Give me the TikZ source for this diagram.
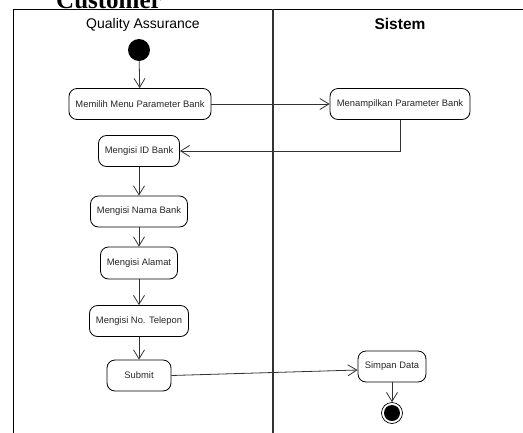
\documentclass[tikz,border=0pt]{standalone}
\usepackage{fontspec}
\setmainfont{Liberation Sans}
\newfontfamily\serifbold{Liberation Serif}
\usetikzlibrary{arrows.meta}
\tikzset{
  act/.style={draw, rounded corners=8pt, line width=0.8pt, inner sep=0pt, font=\fontsize{9.4}{10}\selectfont, text=black!85},
  flow/.style={line width=0.8pt, draw=black!80, -{Straight Barb[length=9pt,width=11pt,line width=0.8pt]}},
  lane/.style={line width=0.9pt, draw=black},
  divider/.style={line width=1.5pt, draw=black!80}
}
\begin{document}
\begin{tikzpicture}[x=1pt,y=-1pt]
\useasboundingbox (0,0) rectangle (523,432);
% title partly cut off
\node[anchor=base west, inner sep=0pt, font=\serifbold\bfseries\fontsize{25}{25}\selectfont] (cust) at (56,8) {Customer};
% swimlane frame
\coordinate (fbl) at (13,440);
\coordinate (ftl) at (13,9);
\coordinate (ftr) at (530,9);
\draw[lane] (fbl) -- (ftl) -- (ftr);
\coordinate (dt) at (273,9);
\coordinate (db) at (273,440);
\draw[divider] (dt) -- (db);
% lane headers
\node[anchor=base, inner sep=0pt, font=\fontsize{14}{16}\selectfont] (qa) at (143,28) {Quality Assurance};
\node[anchor=base, inner sep=0pt, font=\bfseries\fontsize{15.5}{17}\selectfont] (sis) at (400,29.5) {Sistem};
% start
\node[circle, fill=black, minimum size=22pt, inner sep=0pt] (start) at (139,50) {};
% activities
\node[act, minimum width=142pt, minimum height=31pt] (m1) at (140,104) {Memilih Menu Parameter Bank};
\node[act, minimum width=140pt, minimum height=31pt] (m2) at (400,104) {Menampilkan Parameter Bank};
\node[act, minimum width=81pt, minimum height=31pt] (id) at (139,151) {Mengisi ID Bank};
\node[act, minimum width=97pt, minimum height=31pt] (nama) at (139,211.5) {Mengisi Nama Bank};
\node[act, minimum width=77pt, minimum height=32pt] (alamat) at (139,263) {Mengisi Alamat};
\node[act, minimum width=99pt, minimum height=31pt] (telp) at (139,321) {Mengisi No. Telepon};
\node[act, minimum width=64pt, minimum height=31pt] (submit) at (139,375.5) {Submit};
\node[act, minimum width=68pt, minimum height=31pt] (simpan) at (392,366.5) {Simpan Data};
% end
\node[circle, draw, line width=0.7pt, minimum size=21pt, inner sep=0pt] (end) at (392,413) {};
\node[circle, fill=black, minimum size=16pt, inner sep=0pt] (endin) at (392,413) {};
% flows
\draw[flow] (start) -- (m1);
\draw[flow] (m1) -- (m2);
\draw[flow] (m2.south) |- (id.east);
\draw[flow] (id) -- (nama);
\draw[flow] (nama) -- (alamat);
\draw[flow] (alamat) -- (telp);
\draw[flow] (telp) -- (submit);
\draw[flow] (submit.east) -- ([yshift=-3.5pt]simpan.west);
\draw[flow] (simpan) -- (end);
\end{tikzpicture}
\end{document}
